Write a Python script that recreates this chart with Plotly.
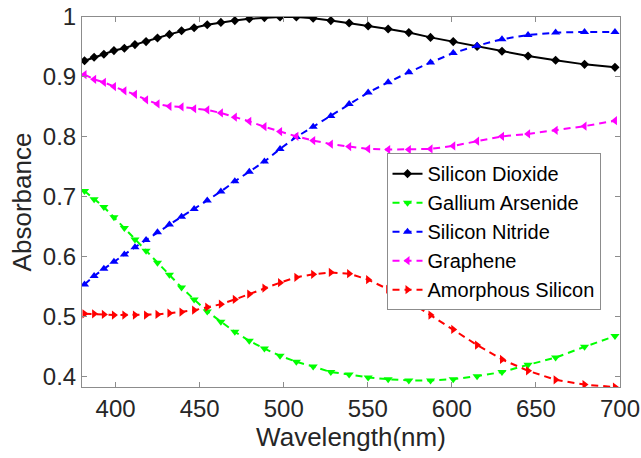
import plotly.graph_objects as go

wavelength = [381.5, 387.2, 393.0, 399.0, 405.2, 411.5, 418.1, 424.9, 432.0, 439.2,
              446.7, 454.5, 462.6, 470.9, 479.5, 488.5, 497.8, 507.5, 517.5, 528.0,
              538.9, 550.2, 562.1, 574.4, 587.3, 600.8, 615.0, 629.8, 645.3, 661.7,
              678.9, 697.0]

silicon_dioxide = [0.927, 0.933, 0.938, 0.944, 0.948, 0.954, 0.959, 0.965, 0.971, 0.977,
                   0.982, 0.987, 0.991, 0.994, 0.997, 0.999, 1.000, 1.000, 0.998, 0.994,
                   0.990, 0.985, 0.980, 0.974, 0.966, 0.959, 0.951, 0.943, 0.935, 0.928,
                   0.921, 0.916]

gallium_arsenide = [0.710, 0.696, 0.683, 0.666, 0.648, 0.629, 0.610, 0.590, 0.570, 0.549,
                    0.529, 0.509, 0.492, 0.475, 0.460, 0.447, 0.435, 0.425, 0.417, 0.408,
                    0.404, 0.399, 0.396, 0.394, 0.394, 0.396, 0.401, 0.408, 0.420, 0.432,
                    0.450, 0.468]

silicon_nitride = [0.554, 0.568, 0.580, 0.592, 0.604, 0.616, 0.628, 0.641, 0.654, 0.667,
                   0.680, 0.694, 0.709, 0.726, 0.742, 0.759, 0.780, 0.800, 0.817, 0.835,
                   0.855, 0.874, 0.891, 0.908, 0.924, 0.940, 0.952, 0.963, 0.970, 0.974,
                   0.975, 0.975]

graphene = [0.904, 0.896, 0.891, 0.884, 0.877, 0.871, 0.862, 0.855, 0.851, 0.850,
            0.847, 0.845, 0.840, 0.833, 0.826, 0.817, 0.809, 0.801, 0.794, 0.788,
            0.784, 0.780, 0.779, 0.779, 0.780, 0.785, 0.793, 0.801, 0.805, 0.811,
            0.818, 0.827]

amorphous_silicon = [0.505, 0.505, 0.504, 0.503, 0.503, 0.503, 0.503, 0.504, 0.506, 0.508,
                     0.511, 0.516, 0.521, 0.529, 0.538, 0.548, 0.557, 0.566, 0.571, 0.574,
                     0.572, 0.562, 0.546, 0.526, 0.503, 0.479, 0.453, 0.429, 0.410, 0.395,
                     0.387, 0.383]

series = [
    ("Silicon Dioxide", silicon_dioxide, "#000000", "solid", "diamond", 7),
    ("Gallium Arsenide", gallium_arsenide, "#00FF00", "7px,5px", "triangle-down", 8),
    ("Silicon Nitride", silicon_nitride, "#0000FF", "7px,5px", "triangle-up", 8),
    ("Graphene", graphene, "#FF00FF", "7px,5px", "triangle-left", 8),
    ("Amorphous Silicon", amorphous_silicon, "#FF0000", "7px,5px", "triangle-right", 8),
]

x_ticks = [400, 450, 500, 550, 600, 650, 700]
y_ticks = [0.4, 0.5, 0.6, 0.7, 0.8, 0.9, 1.0]
y_ticktext = ["0.4", "0.5", "0.6", "0.7", "0.8", "0.9", "1"]

fig = go.Figure()
for name, vals, color, dash, symbol, size in series:
    fig.add_trace(go.Scatter(
        x=wavelength, y=vals, name=name, mode="lines+markers",
        line=dict(color=color, width=2, dash=dash),
        marker=dict(symbol=symbol, size=size, color=color, line=dict(width=0)),
    ))

axis_common = dict(
    showline=True, mirror="ticks", linecolor="#8c8c8c", linewidth=1,
    ticks="inside", ticklen=5, tickcolor="#8c8c8c", showgrid=False, zeroline=False,
    automargin=False,
    tickfont=dict(family="Liberation Sans, Arial, sans-serif", size=24, color="#262626"),
)

fig.update_layout(
    width=641, height=458,
    margin=dict(l=82, r=21, t=17, b=71),
    paper_bgcolor="white", plot_bgcolor="white",
    font=dict(family="Liberation Sans, Arial, sans-serif", color="#262626"),
    xaxis=dict(range=[380, 700], tickvals=x_ticks,
               title=dict(text="Wavelength(nm)", font=dict(size=26, color="#262626"), standoff=6),
               **axis_common),
    yaxis=dict(range=[0.383, 1.0], tickvals=y_ticks, ticktext=y_ticktext,
               title=dict(text="Absorbance", font=dict(size=26, color="#262626"), standoff=3),
               **axis_common),
    legend=dict(x=0.566, y=0.632, xanchor="left", yanchor="top",
                bgcolor="white", bordercolor="#8c8c8c", borderwidth=1,
                font=dict(size=20, color="#000000"), itemwidth=30),
    showlegend=True,
)

fig.write_html("out.html")
